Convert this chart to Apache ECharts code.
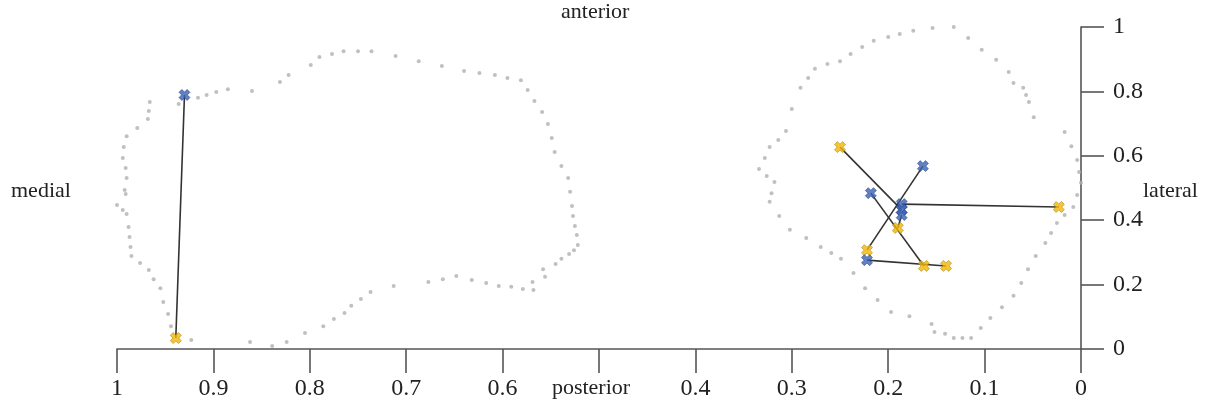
<!DOCTYPE html>
<html>
<head>
<meta charset="utf-8">
<script src="https://cdn.jsdelivr.net/npm/echarts@6/dist/echarts.min.js"></script>
<style>
html,body{margin:0;padding:0;background:#fff;}
#chart{width:1213px;height:411px;}
</style>
</head>
<body>
<div id="chart"></div>
<script>
// Left (medial) outline dots
const leftOutlineX = [0.936,0.916,0.907,0.897,0.885,0.860,0.831,0.822,0.799,0.790,0.777,0.765,0.750,0.736,0.711,0.687,0.663,0.640,0.624,0.608,0.595,0.581,
  0.574,0.567,0.559,0.553,0.549,0.546,0.539,0.532,0.530,0.528,0.527,0.525,0.523,0.522,0.526,0.531,0.539,0.545,0.558,0.556,0.569,0.568,
  0.579,0.591,0.604,0.617,0.632,0.648,0.662,0.677,0.713,0.737,0.747,0.757,0.764,0.775,0.786,0.805,0.824,0.839,0.862,0.923,
  0.944,0.947,0.952,0.955,0.962,0.967,0.976,0.985,0.986,0.987,0.988,0.990,0.994,1.000,0.991,0.992,0.990,0.991,0.994,0.993,0.990,0.979,0.968,0.967,0.966];
const leftOutlineY = [0.761,0.780,0.789,0.798,0.807,0.801,0.829,0.851,0.882,0.907,0.916,0.925,0.925,0.925,0.910,0.894,0.879,0.863,0.857,0.851,0.842,0.835,
  0.804,0.770,0.736,0.699,0.655,0.612,0.568,0.531,0.488,0.444,0.413,0.382,0.354,0.323,0.307,0.295,0.280,0.264,0.248,0.224,0.208,0.183,
  0.186,0.193,0.196,0.205,0.214,0.227,0.217,0.208,0.196,0.177,0.155,0.134,0.112,0.093,0.071,0.050,0.022,0.009,0.022,0.028,
  0.071,0.109,0.146,0.189,0.217,0.245,0.267,0.289,0.317,0.348,0.379,0.419,0.432,0.447,0.481,0.494,0.531,0.562,0.593,0.627,0.661,0.686,0.714,0.739,0.767];

// Right (lateral) outline dots
const rightOutlineX = [0.132,0.117,0.103,0.088,0.075,0.070,0.060,0.057,0.054,0.049,0.017,0.010,0.004,0.002,0.000,0.004,0.008,0.017,0.025,0.031,0.037,0.047,
  0.055,0.062,0.070,0.082,0.094,0.104,0.114,0.123,0.132,0.141,0.152,0.155,0.178,0.197,0.211,0.224,0.236,0.249,0.259,0.270,0.285,0.302,
  0.313,0.323,0.321,0.318,0.326,0.334,0.328,0.323,0.314,0.306,0.300,0.291,0.283,0.276,0.263,0.250,0.239,0.227,0.215,0.200,0.188,0.174,0.154];
const rightOutlineY = [1.000,0.966,0.929,0.898,0.860,0.826,0.811,0.789,0.767,0.720,0.674,0.630,0.587,0.550,0.516,0.478,0.441,0.416,0.391,0.360,0.329,0.289,
  0.248,0.205,0.165,0.130,0.096,0.065,0.034,0.034,0.034,0.047,0.053,0.078,0.102,0.115,0.152,0.189,0.236,0.280,0.298,0.317,0.345,0.370,
  0.413,0.457,0.484,0.519,0.537,0.559,0.593,0.627,0.649,0.677,0.745,0.811,0.842,0.870,0.885,0.894,0.916,0.938,0.957,0.969,0.978,0.988,0.997];

// Paired landmarks (blue[i] is joined to yellow[i])
const blueX   = [0.930,0.164,0.218,0.186,0.186,0.186,0.222];
const blueY   = [0.789,0.568,0.484,0.450,0.432,0.416,0.276];
const yellowX = [0.939,0.222,0.163,0.023,0.250,0.190,0.140];
const yellowY = [0.034,0.307,0.258,0.441,0.627,0.376,0.258];

// Axis tick labels
const xTickLabels = {0:'0',0.1:'0.1',0.2:'0.2',0.3:'0.3',0.4:'0.4',0.5:'posterior',0.6:'0.6',0.7:'0.7',0.8:'0.8',0.9:'0.9',1:'1'};
const yTickLabels = {0:'0',0.2:'0.2',0.4:'0.4',0.6:'0.6',0.8:'0.8',1:'1'};

const FONT = '"Liberation Serif","Times New Roman",serif';
const zip = (a, b) => a.map((v, i) => [v, b[i]]);
const xPath = 'path://M0,2.6 L2.6,0 L5,2.4 L7.4,0 L10,2.6 L7.6,5 L10,7.4 L7.4,10 L5,7.6 L2.6,10 L0,7.4 L2.4,5 Z';

const chart = echarts.init(document.getElementById('chart'), null, {renderer: 'canvas'});
const axisLineStyle = {color: '#555', width: 1.6};

chart.setOption({
  animation: false,
  backgroundColor: '#fff',
  grid: {left: 117, right: 132, top: 27, bottom: 62, containLabel: false},
  xAxis: {
    type: 'value', min: 0, max: 1, interval: 0.1, inverse: true,
    axisLine: {show: true, onZero: false, lineStyle: axisLineStyle},
    axisTick: {show: true, length: 24, lineStyle: axisLineStyle},
    splitLine: {show: false},
    axisLabel: {
      margin: 28, fontSize: 24, fontFamily: FONT, color: '#222',
      showMinLabel: true, showMaxLabel: true,
      formatter: v => {
        const k = Math.round(v * 10) / 10;
        const t = xTickLabels[k];
        return k === 0.5 ? '{p|' + t + '}' : t;
      },
      rich: {p: {fontSize: 22, fontFamily: FONT, color: '#222', padding: [0, 16, 0, 0]}}
    }
  },
  yAxis: {
    type: 'value', min: 0, max: 1, interval: 0.2, position: 'right',
    axisLine: {show: true, onZero: false, lineStyle: axisLineStyle},
    axisTick: {show: true, length: 23, lineStyle: axisLineStyle},
    splitLine: {show: false},
    axisLabel: {
      margin: 32, fontSize: 24, fontFamily: FONT, color: '#222',
      showMinLabel: true, showMaxLabel: true,
      formatter: v => yTickLabels[Math.round(v * 10) / 10]
    }
  },
  graphic: [
    {type: 'text', left: 561, top: 1, style: {text: 'anterior', font: '22px ' + FONT, fill: '#222'}},
    {type: 'text', left: 11, top: 180, style: {text: 'medial', font: '22px ' + FONT, fill: '#222'}},
    {type: 'text', left: 1143, top: 180, style: {text: 'lateral', font: '22px ' + FONT, fill: '#222'}}
  ],
  series: [
    {type: 'scatter', data: zip(leftOutlineX, leftOutlineY), symbolSize: 4, itemStyle: {color: '#b0b0b0'}, silent: true, z: 1},
    {type: 'scatter', data: zip(rightOutlineX, rightOutlineY), symbolSize: 4, itemStyle: {color: '#b0b0b0'}, silent: true, z: 1},
    {type: 'lines', coordinateSystem: 'cartesian2d', z: 2,
      data: blueX.map((bx, i) => ({coords: [[bx, blueY[i]], [yellowX[i], yellowY[i]]]})),
      lineStyle: {color: '#333', width: 1.6, opacity: 1}},
    {type: 'scatter', data: zip(yellowX, yellowY), symbol: xPath, symbolSize: 11, z: 3,
      itemStyle: {color: '#f2b705', borderColor: '#a98108', borderWidth: 0.7}},
    {type: 'scatter', data: zip(blueX, blueY), symbol: xPath, symbolSize: 11, z: 4,
      itemStyle: {color: '#3b62b3', borderColor: '#243f85', borderWidth: 0.7}}
  ]
});
</script>
</body>
</html>
